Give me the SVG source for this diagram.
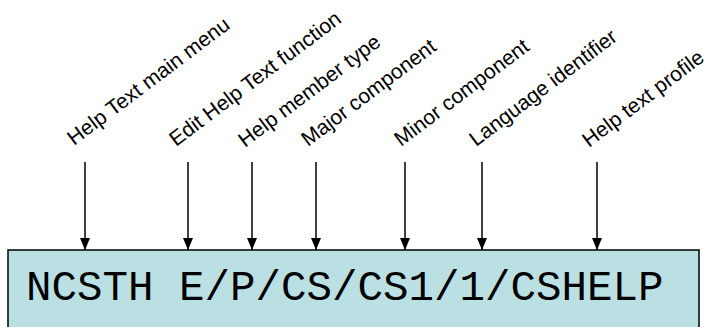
<svg xmlns="http://www.w3.org/2000/svg" width="708" height="327" viewBox="0 0 708 327">
<defs>
<marker id="ah" viewBox="0 0 12 10" refX="12" refY="5" markerWidth="12" markerHeight="10" markerUnits="userSpaceOnUse" orient="auto">
<path d="M0,0 L12,5 L0,10 Z" fill="#000"/>
</marker>
<style>
.lbl{font-family:"Liberation Sans",Arial,sans-serif;font-size:21px;fill:#000}
.conn line{stroke:#000;stroke-width:1.5}
.box{fill:#BBE0E3;stroke:#000;stroke-width:1.5}
.code{font-family:"Liberation Mono","Courier New",monospace;font-size:42.5px;fill:#000}
</style>
</defs>
<rect width="708" height="327" fill="#fff"/>
<g id="labels">
<text class="lbl" transform="translate(74,146) rotate(-37)">Help Text main menu</text>
<text class="lbl" transform="translate(176,147) rotate(-37)">Edit Help Text function</text>
<text class="lbl" transform="translate(245,148) rotate(-37)">Help member type</text>
<text class="lbl" transform="translate(308,147) rotate(-37)">Major component</text>
<text class="lbl" transform="translate(401,147) rotate(-37)">Minor component</text>
<text class="lbl" transform="translate(476,147) rotate(-37)">Language identifier</text>
<text class="lbl" transform="translate(589,148) rotate(-37)">Help text profile</text>
</g>
<g id="connectors" class="conn">
<line x1="85" y1="162" x2="85" y2="250" marker-end="url(#ah)"/>
<line x1="188" y1="162" x2="188" y2="250" marker-end="url(#ah)"/>
<line x1="252" y1="162" x2="252" y2="250" marker-end="url(#ah)"/>
<line x1="316" y1="162" x2="316" y2="250" marker-end="url(#ah)"/>
<line x1="405" y1="162" x2="405" y2="250" marker-end="url(#ah)"/>
<line x1="482" y1="162" x2="482" y2="250" marker-end="url(#ah)"/>
<line x1="597" y1="162" x2="597" y2="250" marker-end="url(#ah)"/>
</g>
<g id="node-path">
<rect class="box" x="8" y="250" width="691" height="90"/>
<text class="code" x="26" y="300">NCSTH E/P/CS/CS1/1/CSHELP</text>
</g>
</svg>
